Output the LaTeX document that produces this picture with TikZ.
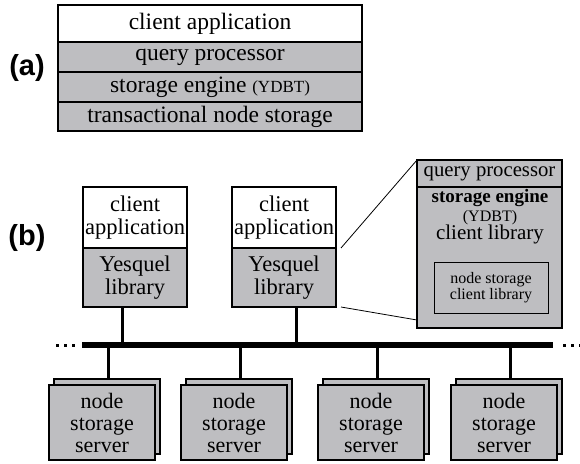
\documentclass[tikz,border=0pt]{standalone}
\usepackage{fontspec}
\setmainfont{Liberation Serif}
\newfontfamily\labelfont{Liberation Sans}
\usetikzlibrary{positioning}
\definecolor{boxgray}{RGB}{190,190,193}
\tikzset{
  layer/.style={draw,line width=2.4pt,fill=boxgray,inner sep=0pt,outer sep=0pt,
    minimum width=304pt,minimum height=30pt,font=\fontsize{23.5}{23.5}\selectfont},
  appbox/.style={draw,line width=2.4pt,fill=white,inner sep=0pt,outer sep=0pt,align=center,
    minimum width=104pt,font=\fontsize{22.5}{22.5}\selectfont},
  zoombox/.style={draw,line width=1.4pt,fill=boxgray,inner sep=0pt,outer sep=0pt,
    minimum width=145pt,font=\fontsize{20.7}{20.7}\selectfont},
  srvbox/.style={draw,line width=2pt,fill=boxgray,inner sep=0pt,outer sep=0pt,align=center,
    minimum width=106pt,minimum height=75pt,font=\fontsize{22}{22}\selectfont},
  stem/.style={line width=3pt},
  partlabel/.style={font=\labelfont\bfseries\fontsize{29}{29}\selectfont}
}
\begin{document}
\begin{tikzpicture}[x=1pt,y=-1pt]
\useasboundingbox (0,0) rectangle (580,463);
% (a)
\node[partlabel] (la) at (27,68) {(a)};
\node[layer,fill=white,minimum height=37pt,anchor=north west] (capp) at (58,5) {client application};
\node[layer,below=0pt of capp] (qp) {query processor};
\node[layer,below=0pt of qp] (se) {storage engine {\fontsize{17}{17}\selectfont(YDBT)}};
\node[layer,minimum height=29pt,below=0pt of se] (tns) {transactional node storage};
% (b)
\node[partlabel] (lb) at (27,238) {(b)};
\node[appbox,minimum height=61pt,anchor=north west] (app1) at (83,187) {client\\application};
\node[appbox,fill=boxgray,minimum height=59pt,below=0pt of app1] (lib1) {Yesquel\\library};
\node[appbox,minimum height=61pt,anchor=north west] (app2) at (232,187) {client\\application};
\node[appbox,fill=boxgray,minimum height=59pt,below=0pt of app2] (lib2) {Yesquel\\library};
\node[zoombox,minimum height=27pt,anchor=north west] (zqp) at (417,160) {query processor};
\node[zoombox,minimum height=141pt,below=0pt of zqp] (zse) {};
\node[align=center,font=\fontsize{21}{18.5}\selectfont] (zsetext) at (490,217)
  {{\fontsize{19}{19}\selectfont\textbf{storage engine}}\\{\fontsize{16}{16}\selectfont(YDBT)}\\client library};
\node[draw,line width=1pt,inner sep=0pt,minimum width=114pt,minimum height=51pt,align=center,
  font=\fontsize{16}{13.5}\selectfont] (nsc) at (491,287.5) {node storage\\client library};
\draw[line width=0.8pt] ([xshift=5pt]app2.south east) -- (zqp.north west);
\draw[line width=0.8pt] ([xshift=5pt]lib2.south east) -- ([yshift=8pt]zse.south west);
% bus
\coordinate (busL) at (82,345);
\coordinate (busR) at (553,345);
\draw[line width=6pt] (busL) -- (busR);
\foreach \x in {57,65,73} \fill (\x-1.5,343.5) rectangle ++(3,3);
\foreach \x in {564,572,580} \fill (\x-1.5,343.5) rectangle ++(3,3);
\draw[stem] ([xshift=-13pt]lib1.south) -- ([xshift=-13pt]lib1.south |- busL);
\draw[stem] ([xshift=12pt]lib2.south) -- ([xshift=12pt]lib2.south |- busL);
\foreach \i/\x in {1/49,2/181,3/318,4/451}{
  \draw[srvbox] (\x+5,379) rectangle ++(106,75);
  \node[srvbox,anchor=north west] (srv\i) at (\x,385) {node\\storage\\server};
  \coordinate (top\i) at (\x+59,379);
  \draw[stem] (top\i |- busL) -- (top\i);
}
\end{tikzpicture}
\end{document}
